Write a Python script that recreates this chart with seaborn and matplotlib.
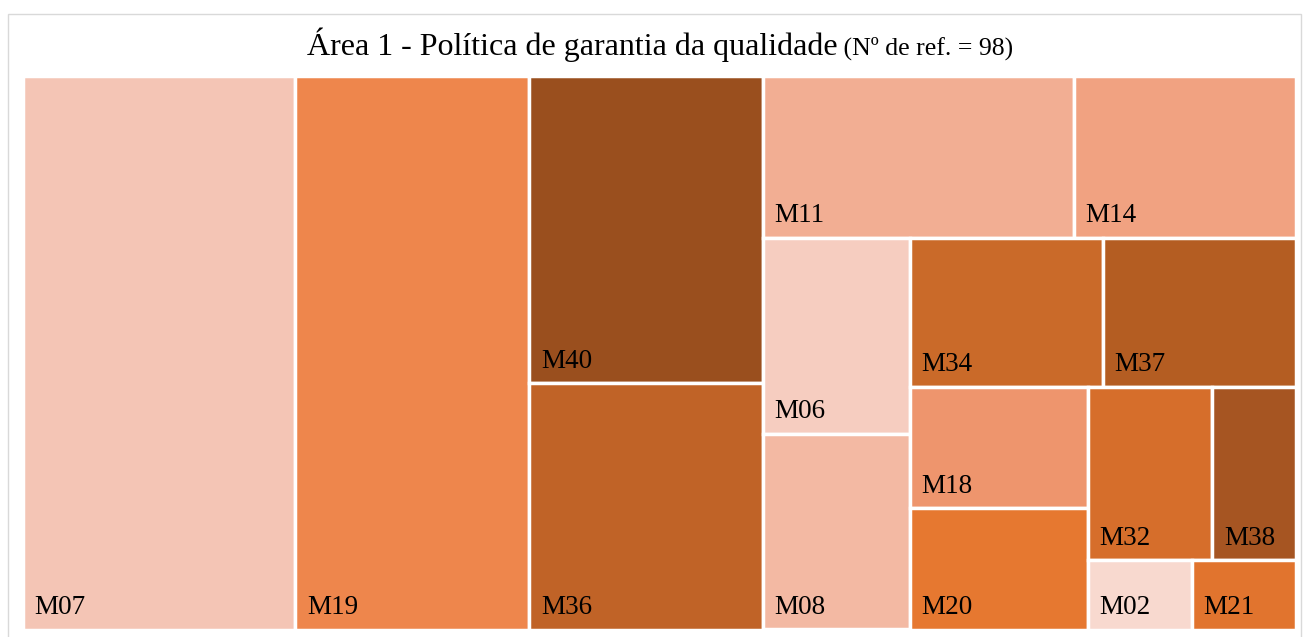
import matplotlib.pyplot as plt
import seaborn as sns
from matplotlib.patches import Rectangle

# references per measure (Área 1), largest first as in the treemap
labels = ["M07", "M19", "M40", "M36", "M11", "M14", "M06", "M08",
          "M34", "M37", "M18", "M20", "M32", "M38", "M02", "M21"]
refs = [21, 18, 10, 8, 7, 5, 4, 4, 4, 4, 3, 3, 3, 2, 1, 1]
# how many cells go into each strip of the layout
strips = [1, 1, 2, 2, 2, 2, 2, 2, 2]

colors = ["#F4C5B5", "#EE864C", "#9A4F1E", "#C06327", "#F2AE93", "#F1A281",
          "#F6CDC0", "#F3B9A3", "#CA6A29", "#B45D22", "#EE956D", "#E67830",
          "#D66E2B", "#A65522", "#F8D9CF", "#E1742E"]

title = "Área 1 - Política de garantia da qualidade"
subtitle = f"(Nº de ref. = {sum(refs)})"


def strip_layout(vals, strips, w, h):
    # strips go along the short side of what is left; the last one fills the rest
    out = []
    x, y = 0.0, 0.0
    i = 0
    for k, n in enumerate(strips):
        grp = vals[i:i + n]
        frac = sum(grp) / sum(vals[i:])
        last = k == len(strips) - 1
        if (w >= h) != last:
            cw = w * frac
            yy = y
            for v in grp:
                ch = h * v / sum(grp)
                out.append((x, yy, cw, ch))
                yy += ch
            x += cw
            w -= cw
        else:
            rh = h * frac
            xx = x
            for v in grp:
                rw = w * v / sum(grp)
                out.append((xx, y, rw, rh))
                xx += rw
            y += rh
            h -= rh
        i += n
    return out


sns.set_theme(style="white")
plt.rcParams["font.family"] = ["Liberation Serif", "DejaVu Serif"]

W_PX, H_PX = 1303, 637
fig = plt.figure(figsize=(W_PX / 100, H_PX / 100), dpi=100)

# plot area in pixels (left, top, right, bottom)
l, t, r, b = 22.5, 75.5, 1295.5, 629.5
ax = fig.add_axes([l / W_PX, 1 - b / H_PX, (r - l) / W_PX, (b - t) / H_PX])

W, H = (r - l) / (b - t), 1.0
cells = strip_layout(refs, strips, W, H)

ax.bar([c[0] for c in cells], [c[3] for c in cells], width=[c[2] for c in cells],
       bottom=[c[1] for c in cells], align="edge", color=colors,
       edgecolor="white", linewidth=2.5)

for lab, (x, y, w, h) in zip(labels, cells):
    ax.annotate(lab, xy=(x, y + h), xytext=(8.5, 11.2), textcoords="offset points",
                ha="left", va="baseline", fontsize=19.5, color="black")

ax.set_xlim(0, W)
ax.set_ylim(H, 0)
ax.axis("off")

# chart border like the spreadsheet frame
fig.patches.append(Rectangle((7.5 / W_PX, -0.05), (1301 - 7.5) / W_PX, 1.05 - 13.5 / H_PX,
                             transform=fig.transFigure, fill=False,
                             edgecolor="#D9D9D9", linewidth=1))

# title in two sizes, centred as one line
t1 = fig.text(0, 1 - 55 / H_PX, title, fontsize=23, va="baseline", ha="left", color="black")
t2 = fig.text(0, 1 - 55 / H_PX, " " + subtitle, fontsize=18.5, va="baseline", ha="left",
              color="black")
fig.canvas.draw()
rend = fig.canvas.get_renderer()
w1 = t1.get_window_extent(rend).width
w2 = t2.get_window_extent(rend).width
x0 = 660 - (w1 + w2) / 2
t1.set_x(x0 / W_PX)
t2.set_x((x0 + w1) / W_PX)

fig.savefig("out.png", dpi=100)
